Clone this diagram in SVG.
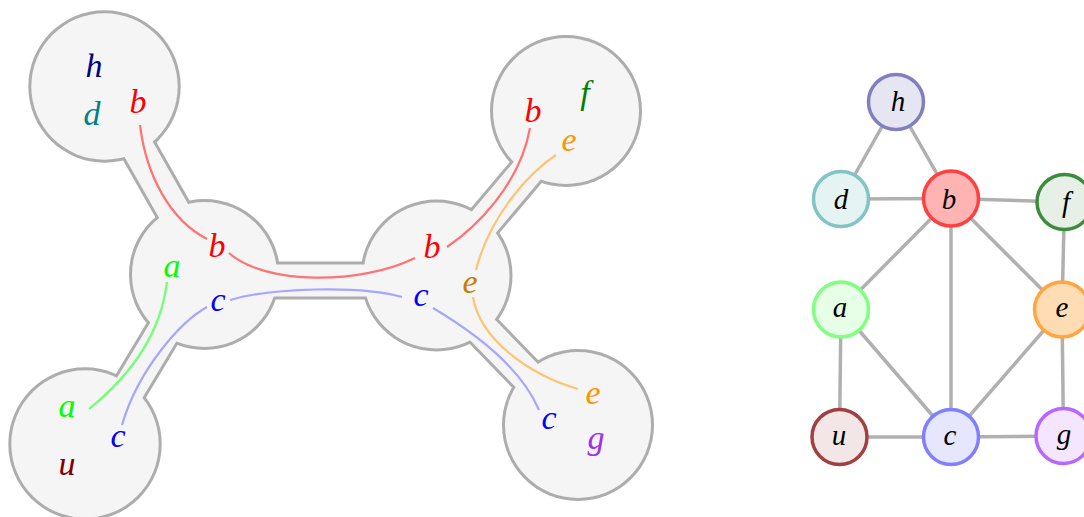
<svg xmlns="http://www.w3.org/2000/svg" width="1084" height="517" viewBox="0 0 1084 517">
<style>
.ol{fill:#adadad}
.sol{stroke:#adadad;stroke-width:38;fill:none}
.fi{fill:#f5f5f5}
.sfi{stroke:#f5f5f5;stroke-width:32;fill:none}
.cv{fill:none;stroke-width:2.2}
.lb{font-family:"Liberation Serif",serif;font-style:italic;font-size:34px;text-anchor:middle}
.gl{font-family:"Liberation Serif",serif;font-style:italic;font-size:29px;text-anchor:middle;fill:#000}
.ed{stroke:#b0b0b0;stroke-width:3.5;fill:none}
.nd{stroke-width:3.5}
</style>
<rect width="1084" height="517" fill="#fff"/>
<g id="bags-outline">
<line class="sol" x1="109.8" y1="98.3" x2="201" y2="259.3"/>
<line class="sol" x1="100.5" y1="436.6" x2="203.3" y2="265.2"/>
<line class="sol" x1="204.5" y1="280.5" x2="436.5" y2="280.5"/>
<line class="sol" x1="441.5" y1="272.3" x2="564" y2="127.2"/>
<line class="sol" x1="434.6" y1="280.5" x2="573.8" y2="424.1"/>
<circle class="ol" cx="104.5" cy="86.5" r="76.2"/>
<circle class="ol" cx="204.5" cy="274.5" r="75.5"/>
<circle class="ol" cx="436.5" cy="275.5" r="76"/>
<circle class="ol" cx="566" cy="111" r="76"/>
<circle class="ol" cx="578" cy="425" r="76"/>
<circle class="ol" cx="85" cy="444" r="76.7"/>
</g>
<g id="bags-fill">
<circle class="fi" cx="104.5" cy="86.5" r="73.2"/>
<circle class="fi" cx="204.5" cy="274.5" r="72.5"/>
<circle class="fi" cx="436.5" cy="275.5" r="73"/>
<circle class="fi" cx="566" cy="111" r="73"/>
<circle class="fi" cx="578" cy="425" r="73"/>
<circle class="fi" cx="85" cy="444" r="73.7"/>
<line class="sfi" x1="109.8" y1="98.3" x2="201" y2="259.3"/>
<line class="sfi" x1="100.5" y1="436.6" x2="203.3" y2="265.2"/>
<line class="sfi" x1="204.5" y1="280.5" x2="436.5" y2="280.5"/>
<line class="sfi" x1="441.5" y1="272.3" x2="564" y2="127.2"/>
<line class="sfi" x1="434.6" y1="280.5" x2="573.8" y2="424.1"/>
</g>
<g id="vertex-curves">
<path class="cv" stroke="#ff7373" d="M140,125 C146,175 170,220 207,239"/>
<path class="cv" stroke="#ff7373" d="M229,253 C265,285 360,285 415,258"/>
<path class="cv" stroke="#ff7373" d="M447,247 C475,228 520,185 530,128"/>
<path class="cv" stroke="#ffc373" d="M556,155 C530,172 490,215 476,270"/>
<path class="cv" stroke="#ffc373" d="M473,297 C480,340 530,375 578,389"/>
<path class="cv" stroke="#a6a6ff" d="M230,300 C270,288 360,285 402,297"/>
<path class="cv" stroke="#a6a6ff" d="M207,307 C180,322 138,370 122,425"/>
<path class="cv" stroke="#a6a6ff" d="M433,308 C470,330 520,365 539,410"/>
<path class="cv" stroke="#73ff73" d="M167,282 C160,340 125,380 89,409"/>
</g>
<g id="bag-TL">
<text class="lb" x="94" y="77" fill="#000080">h</text>
<text class="lb" x="92" y="125" fill="#008080">d</text>
<text class="lb" x="138" y="113" fill="#ff0000">b</text>
</g>
<g id="bag-ML">
<text class="lb" x="217" y="257" fill="#ff0000">b</text>
<text class="lb" x="172" y="277" fill="#00ff00">a</text>
<text class="lb" x="218" y="311" fill="#0000ff">c</text>
</g>
<g id="bag-MR">
<text class="lb" x="432" y="258" fill="#ff0000">b</text>
<text class="lb" x="421" y="306" fill="#0000ff">c</text>
<text class="lb" x="470" y="293" fill="#cc7a00">e</text>
</g>
<g id="bag-TR">
<text class="lb" x="533" y="122" fill="#ff0000">b</text>
<text class="lb" x="585" y="104" fill="#007f00">f</text>
<text class="lb" x="569" y="151" fill="#ff9500">e</text>
</g>
<g id="bag-BR">
<text class="lb" x="593" y="404" fill="#ff9500">e</text>
<text class="lb" x="549" y="429" fill="#0000ff">c</text>
<text class="lb" x="596" y="449" fill="#a030f0">g</text>
</g>
<g id="bag-BL">
<text class="lb" x="67" y="417" fill="#00ff00">a</text>
<text class="lb" x="118" y="447" fill="#0000ff">c</text>
<text class="lb" x="67" y="475" fill="#800000">u</text>
</g>
<g id="edges">
<line class="ed" x1="896" y1="102" x2="841" y2="199"/>
<line class="ed" x1="896" y1="102" x2="951" y2="198.5"/>
<line class="ed" x1="841" y1="199" x2="951" y2="198.5"/>
<line class="ed" x1="951" y1="198.5" x2="1064.5" y2="202"/>
<line class="ed" x1="951" y1="198.5" x2="841" y2="309.5"/>
<line class="ed" x1="951" y1="198.5" x2="951" y2="437"/>
<line class="ed" x1="951" y1="198.5" x2="1062" y2="309.5"/>
<line class="ed" x1="1064.5" y1="202" x2="1062" y2="309.5"/>
<line class="ed" x1="841" y1="309.5" x2="839.5" y2="437"/>
<line class="ed" x1="841" y1="309.5" x2="951" y2="437"/>
<line class="ed" x1="1062" y1="309.5" x2="951" y2="437"/>
<line class="ed" x1="1062" y1="309.5" x2="1063.5" y2="436"/>
<line class="ed" x1="839.5" y1="437" x2="951" y2="437"/>
<line class="ed" x1="951" y1="437" x2="1063.5" y2="436"/>
</g>
<g id="node-h"><circle class="nd" cx="896" cy="102" r="27.5" fill="#e6e6f2" stroke="#8080c0"/><text class="gl" x="898" y="111">h</text></g>
<g id="node-d"><circle class="nd" cx="841" cy="199" r="27.5" fill="#e6f3f3" stroke="#80c4c4"/><text class="gl" x="841" y="209">d</text></g>
<g id="node-b"><circle class="nd" cx="951" cy="198.5" r="27.5" fill="#ffb3b3" stroke="#ff4040"/><text class="gl" x="949" y="209">b</text></g>
<g id="node-f"><circle class="nd" cx="1064.5" cy="202" r="27.5" fill="#e6f0e6" stroke="#3d8c3d"/><text class="gl" x="1066" y="212">f</text></g>
<g id="node-a"><circle class="nd" cx="841" cy="309.5" r="27.5" fill="#e6ffe6" stroke="#80ff80"/><text class="gl" x="840" y="317">a</text></g>
<g id="node-e"><circle class="nd" cx="1062" cy="309.5" r="27.5" fill="#ffdcb3" stroke="#ffa640"/><text class="gl" x="1062" y="317">e</text></g>
<g id="node-u"><circle class="nd" cx="839.5" cy="437" r="27.5" fill="#f2e6e6" stroke="#a04040"/><text class="gl" x="839" y="445">u</text></g>
<g id="node-c"><circle class="nd" cx="951" cy="437" r="27.5" fill="#e6e6ff" stroke="#8080ff"/><text class="gl" x="950" y="445">c</text></g>
<g id="node-g"><circle class="nd" cx="1063.5" cy="436" r="27.5" fill="#f5e6ff" stroke="#b866ff"/><text class="gl" x="1064" y="444">g</text></g>
</svg>
